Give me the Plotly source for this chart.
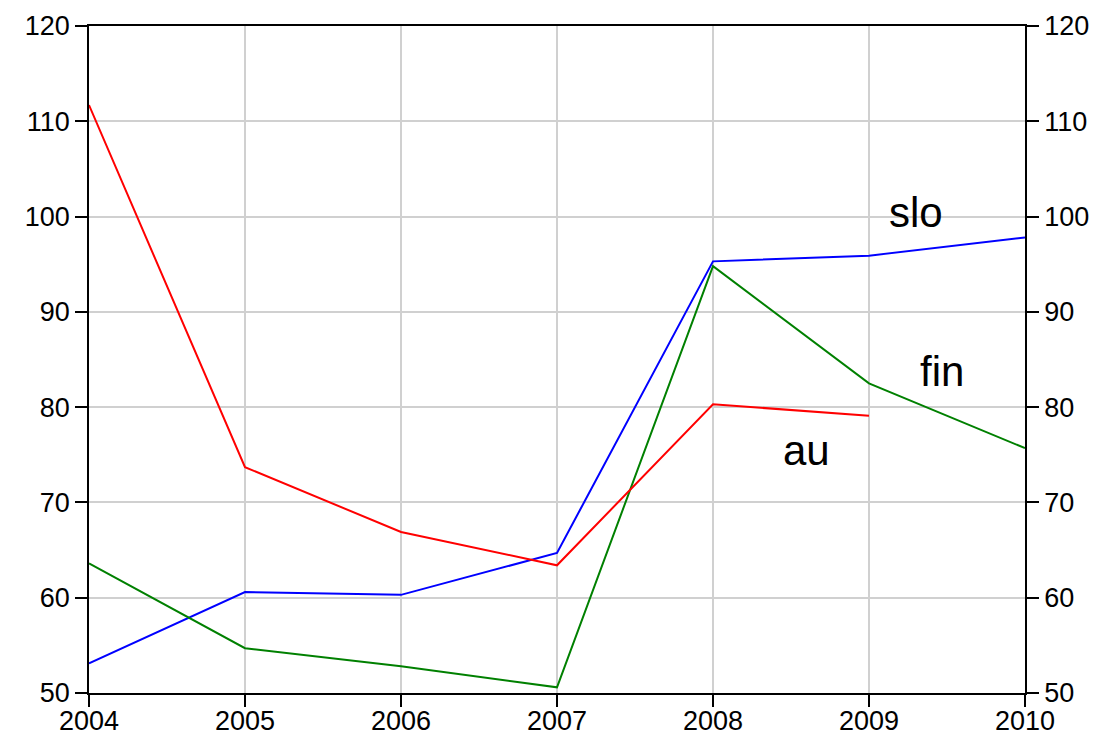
import plotly.graph_objects as go

years = [2004, 2005, 2006, 2007, 2008, 2009, 2010]
slo = [53.1, 60.6, 60.3, 64.7, 95.3, 95.9, 97.8]
fin = [63.6, 54.7, 52.8, 50.6, 94.8, 82.5, 75.7]
au = [111.7, 73.7, 66.9, 63.4, 80.3, 79.1, None]

series_names = ["slo", "fin", "au"]
series_colors = ["#0000ff", "#008000", "#ff0000"]
label_pos = {"slo": (2009.3, 100.4), "fin": (2009.47, 83.7), "au": (2008.6, 75.5)}

y_ticks = [50, 60, 70, 80, 90, 100, 110, 120]
y_range = [50, 120]
font_family = "Liberation Sans, Arial, sans-serif"

fig = go.Figure()
for name, vals, col in zip(series_names, [slo, fin, au], series_colors):
    fig.add_trace(go.Scatter(x=years, y=vals, mode="lines", name=name,
                             line=dict(color=col, width=2), showlegend=False,
                             connectgaps=False))
# copy of one series on the right-hand axis so its labels are drawn
fig.add_trace(go.Scatter(x=years, y=slo, mode="lines", yaxis="y2",
                         line=dict(color="rgba(0,0,0,0)", width=0),
                         showlegend=False, hoverinfo="skip"))

for name in series_names:
    x, y = label_pos[name]
    fig.add_annotation(x=x, y=y, text=name, showarrow=False,
                       font=dict(size=42, color="black", family=font_family),
                       xanchor="center", yanchor="middle")

axis_common = dict(showline=True, linecolor="black", linewidth=1.5,
                   ticks="outside", ticklen=12, tickcolor="black", tickwidth=1.5,
                   automargin=False,
                   tickfont=dict(size=27, color="black", family=font_family))

fig.update_layout(
    width=1105, height=740,
    margin=dict(l=89, r=80, t=26, b=47),
    plot_bgcolor="white", paper_bgcolor="white",
    xaxis=dict(range=[2004, 2010], tickvals=years, ticktext=[str(v) for v in years],
               showgrid=True, gridcolor="#d0d0d0", gridwidth=1.5, mirror=True,
               zeroline=False, ticklabelstandoff=-9, **axis_common),
    yaxis=dict(range=y_range, tickvals=y_ticks, showgrid=True, gridcolor="#d0d0d0",
               gridwidth=1.5, mirror=True, zeroline=False, **axis_common),
    yaxis2=dict(range=y_range, tickvals=y_ticks, overlaying="y", side="right",
                showgrid=False, zeroline=False, **axis_common),
)

fig.write_html("out.html")
